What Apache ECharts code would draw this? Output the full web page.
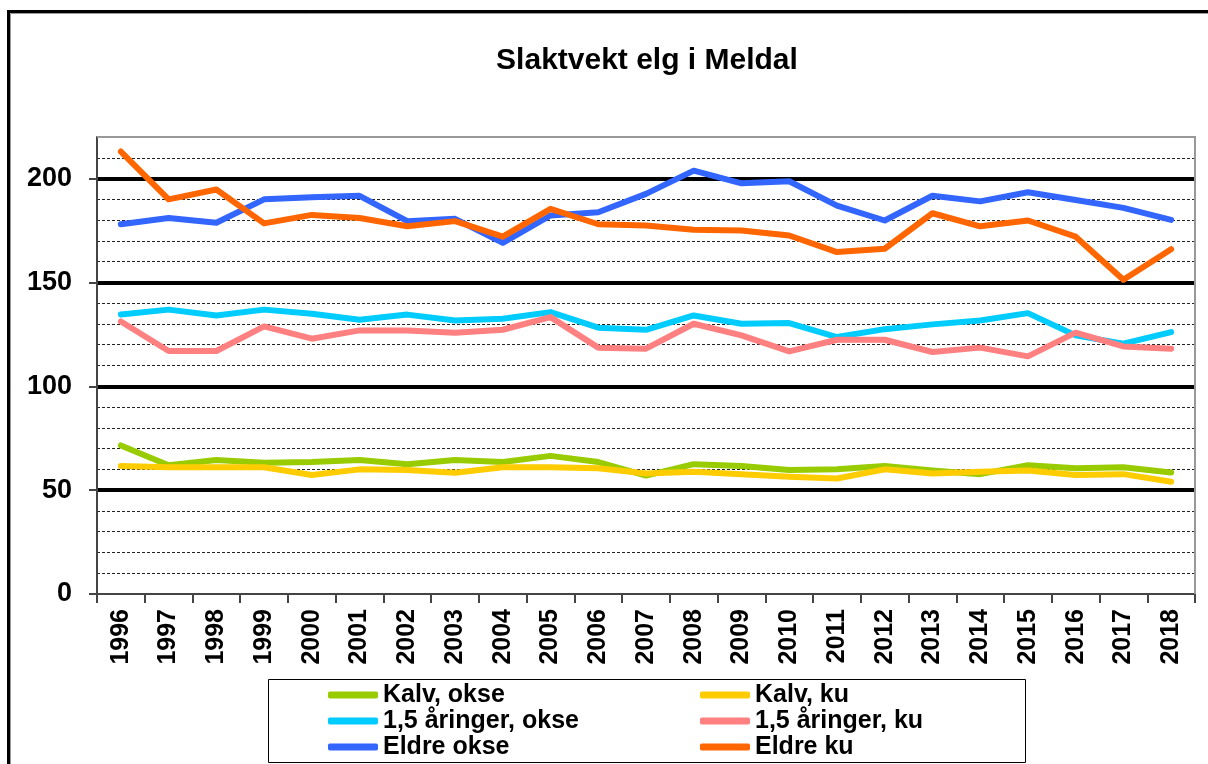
<!DOCTYPE html>
<html>
<head>
    <meta charset="utf-8">
    <title>Slaktvekt elg i Meldal</title>
    <script src="https://cdn.jsdelivr.net/npm/echarts@6/dist/echarts.min.js"></script>
    <style>
        html, body {
            margin: 0;
            padding: 0;
            background: #fff;
        }

        #chart {
            width: 1208px;
            height: 764px;
        }
    </style>
</head>
<body>
<div id="chart"></div>
<script type="text/javascript">

    /* data */
    var years = ['1996', '1997', '1998', '1999', '2000', '2001', '2002', '2003', '2004', '2005', '2006', '2007',
        '2008', '2009', '2010', '2011', '2012', '2013', '2014', '2015', '2016', '2017', '2018'];

    var kalvOkse = [71.5, 62, 64.5, 63.2, 63.5, 64.5, 62.5, 64.5, 63.5, 66.5, 63.5, 57,
        62.5, 61.6, 59.7, 60, 61.6, 59.4, 57.7, 62, 60.5, 61, 58.5];
    var kalvKu = [61.6, 61, 61, 61, 57.3, 60, 59.7, 58.4, 61, 61, 60.5, 58,
        58.9, 57.7, 56.5, 55.6, 60, 58, 58.9, 59.4, 57.3, 57.7, 54];
    var aaringOkse = [134.6, 136.9, 134.1, 136.9, 134.9, 132, 134.5, 131.7, 132.5, 135.7, 128.2, 127.2,
        134.1, 130.1, 130.4, 123.7, 127.5, 129.8, 131.7, 135.2, 124.5, 120.5, 126.1];
    var aaringKu = [131.2, 117, 117, 128.8, 122.9, 126.9, 126.9, 125.8, 127.2, 133.3, 118.6, 118.1,
        130.1, 124.5, 116.8, 122.4, 122.4, 116.5, 118.6, 114.4, 125.8, 119.2, 118.1];
    var eldreOkse = [178, 181, 178.7, 190, 191, 191.7, 179.5, 180.6, 169, 182.2, 183.8, 192.6,
        203.8, 197.7, 198.7, 187, 179.8, 191.7, 189, 193.4, 189.7, 185.9, 180.1];
    var eldreKu = [213, 190, 194.7, 178.4, 182.5, 181, 177, 179.5, 172, 185.4, 178, 177.4,
        175.3, 175, 172.6, 164.6, 166.2, 183.3, 177, 179.8, 172, 151.3, 166];

    var seriesNames = ['Kalv, okse', 'Kalv, ku', '1,5 åringer, okse', '1,5 åringer, ku', 'Eldre okse', 'Eldre ku'];
    var seriesData = [kalvOkse, kalvKu, aaringOkse, aaringKu, eldreOkse, eldreKu];
    var seriesColors = ['#99CC00', '#FFCC00', '#00CCFF', '#FF8080', '#3366FF', '#FF6600'];

    var yMin = 0;
    var yMax = 220;

    var font = 'Liberation Sans, Arial, sans-serif';

    // minor dashed lines every 10, none on the top edge
    var minorColors = [];
    for (var i = 0; i <= yMax; i += 10) {
        minorColors.push(i === yMax ? 'rgba(0,0,0,0)' : '#222');
    }
    // thick lines at every 50, but not on 0 or the top edge
    var majorColors = ['rgba(0,0,0,0)', '#000', '#000', '#000', '#000', 'rgba(0,0,0,0)'];

    var series = seriesNames.map(function (name, k) {
        return {
            name: name,
            type: 'line',
            yAxisIndex: 0,
            data: seriesData[k],
            symbol: 'none',
            smooth: false,
            animation: false,
            color: seriesColors[k],
            lineStyle: {
                width: 6,
                color: seriesColors[k],
                cap: 'round',
                join: 'round'
            }
        };
    });

    var legendText = {
        fontFamily: font,
        fontSize: 25,
        fontWeight: 'bold',
        color: '#000',
        lineHeight: 26
    };

    function legendColumn(names, left) {
        return {
            data: names,
            orient: 'vertical',
            left: left,
            top: 682,
            height: 80,
            padding: 0,
            itemGap: 0,
            itemWidth: 50,
            itemHeight: 7,
            icon: 'roundRect',
            selectedMode: false,
            textStyle: legendText
        };
    }

    var myChart = echarts.init(document.getElementById('chart'), null, {renderer: 'canvas'});

    myChart.setOption({
        backgroundColor: '#fff',
        animation: false,
        title: {
            text: 'Slaktvekt elg i Meldal',
            left: 642,
            top: 41,
            textAlign: 'center',
            textStyle: {
                fontFamily: font,
                fontSize: 30,
                fontWeight: 'bold',
                color: '#000'
            }
        },
        grid: {
            left: 97,
            right: 13,
            top: 137,
            bottom: 170,
            show: false
        },
        legend: [
            legendColumn([seriesNames[0], seriesNames[2], seriesNames[4]], 328),
            legendColumn([seriesNames[1], seriesNames[3], seriesNames[5]], 700)
        ],
        xAxis: {
            type: 'category',
            data: years,
            boundaryGap: true,
            axisLine: {
                show: true,
                lineStyle: {color: '#444', width: 2}
            },
            axisTick: {
                show: true,
                inside: false,
                length: 9,
                interval: 0,
                lineStyle: {color: '#444', width: 2}
            },
            axisLabel: {
                interval: 0,
                rotate: 90,
                margin: 15,
                fontFamily: font,
                fontSize: 25,
                fontWeight: 'bold',
                color: '#000'
            },
            splitLine: {show: false}
        },
        yAxis: [
            {
                type: 'value',
                min: yMin,
                max: yMax,
                interval: 10,
                position: 'left',
                axisLine: {
                    show: true,
                    lineStyle: {color: '#444', width: 2}
                },
                axisTick: {show: false},
                axisLabel: {show: false},
                splitLine: {
                    show: true,
                    lineStyle: {color: minorColors, width: 1, type: [3, 2]}
                }
            },
            {
                type: 'value',
                min: yMin,
                max: yMax,
                interval: 50,
                position: 'left',
                alignTicks: false,
                axisLine: {show: false},
                axisTick: {
                    show: true,
                    length: 8,
                    lineStyle: {color: '#444', width: 2}
                },
                axisLabel: {
                    margin: 25,
                    showMaxLabel: false,
                    fontFamily: font,
                    fontSize: 27,
                    fontWeight: 'bold',
                    color: '#000'
                },
                splitLine: {
                    show: true,
                    lineStyle: {color: majorColors, width: 4, type: 'solid'}
                }
            }
        ],
        graphic: [
            // outer frame of the chart sheet
            {
                type: 'rect',
                shape: {x: 8.5, y: 11.5, width: 1400, height: 1000},
                style: {fill: null, stroke: '#000', lineWidth: 3},
                silent: true
            },
            {
                type: 'polyline',
                shape: {points: [[10.5, 900], [10.5, 13.5], [1400, 13.5]]},
                style: {fill: null, stroke: '#999', lineWidth: 1},
                silent: true
            },
            // plot area border top/right
            {
                type: 'polyline',
                shape: {points: [[97, 137], [1195, 137], [1195, 594]]},
                style: {fill: null, stroke: '#999', lineWidth: 2},
                silent: true,
                z: 1
            },
            // legend box
            {
                type: 'rect',
                shape: {x: 268.5, y: 679.5, width: 757, height: 83},
                style: {fill: null, stroke: '#000', lineWidth: 1},
                silent: true
            }
        ],
        series: series
    });

</script>
</body>
</html>
